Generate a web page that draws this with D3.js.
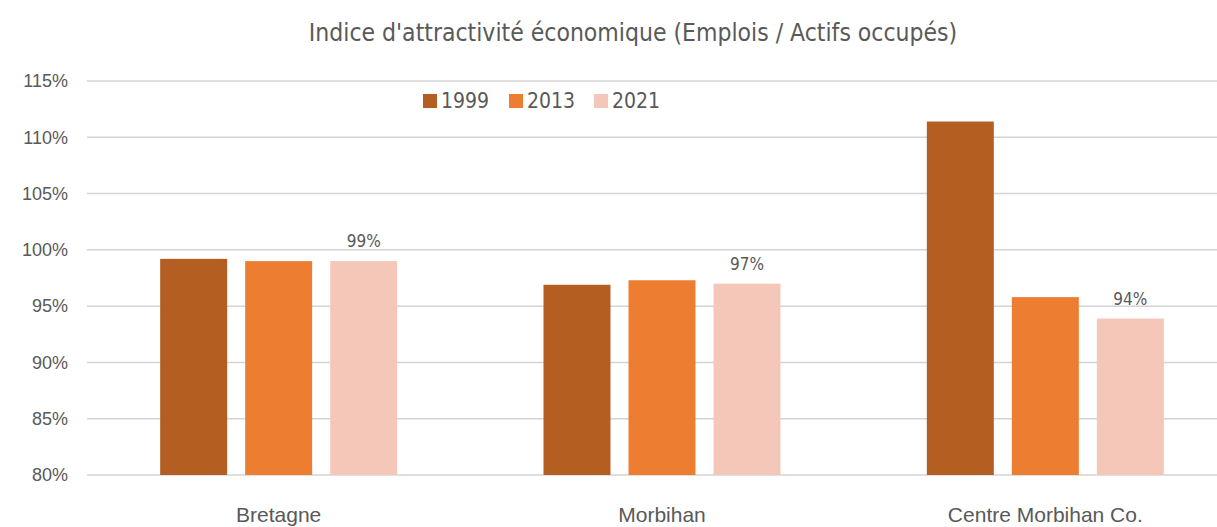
<!DOCTYPE html>
<html>
<head>
<meta charset="utf-8">
<script src="https://cdn.jsdelivr.net/npm/d3@7"></script>
<style>
  body { margin: 0; background: #fff; }
  svg { display: block; font-family: "Liberation Sans Narrow", "DejaVu Sans Condensed", "Noto Sans", sans-serif; }
</style>
</head>
<body>
<div id="chart"></div>
<script>
// chart data
const categories = ["Bretagne", "Morbihan", "Centre Morbihan Co."];
const years = ["1999", "2013", "2021"];
const v1999 = [0.992, 0.969, 1.114];
const v2013 = [0.990, 0.973, 0.958];
const v2021 = [0.990, 0.970, 0.939];
const labels2021 = ["99%", "97%", "94%"];
const yTicks = [0.80, 0.85, 0.90, 0.95, 1.00, 1.05, 1.10, 1.15];

const WIDTH = 1217, HEIGHT = 527;
const COLORS = {"1999": "#b45e22", "2013": "#ed7d31", "2021": "#f4c7b8"};

const svg = d3.select("#chart").append("svg")
    .attr("width", WIDTH)
    .attr("height", HEIGHT);

// scales
const X = d3.scaleBand().domain(categories).range([87, 1237]);
const XS = d3.scaleBand().domain(years).range([0, 237]).paddingInner(0.212);
const Y = d3.scaleLinear().domain([0.80, 1.15]).range([475, 81]);

// gridlines
svg.append("g").selectAll("line")
    .data(yTicks)
    .enter().append("line")
      .attr("x1", 87).attr("x2", 1237)
      .attr("y1", d => Y(d)).attr("y2", d => Y(d))
      .attr("stroke", "#d4d4d4")
      .attr("stroke-width", 1.5);

// y axis labels
const yAxis = svg.append("g")
    .attr("transform", "translate(68,0)")
    .call(d3.axisLeft(Y).tickValues(yTicks).tickFormat(d => Math.round(d * 100) + "%").tickSize(0).tickPadding(0));
yAxis.select(".domain").remove();
yAxis.selectAll("text")
    .attr("font-size", "18px")
    .attr("fill", "#595959")
    .style("font-family", "inherit");

// bars
const series = [v1999, v2013, v2021];
years.forEach((yr, i) => {
  svg.append("g").selectAll("rect")
      .data(series[i])
      .enter().append("rect")
        .attr("x", (d, j) => X(categories[j]) + (X.bandwidth() - 237) / 2 + XS(yr))
        .attr("y", d => Y(d))
        .attr("width", XS.bandwidth())
        .attr("height", d => Y(0.80) - Y(d))
        .attr("fill", COLORS[yr]);
});

// labels on 2021 bars
svg.append("g").selectAll("text")
    .data(v2021)
    .enter().append("text")
      .attr("x", (d, j) => X(categories[j]) + (X.bandwidth() - 237) / 2 + XS("2021") + XS.bandwidth() / 2)
      .attr("y", d => Y(d) - 14)
      .attr("text-anchor", "middle")
      .attr("font-size", "17px")
      .attr("fill", "#595959")
      .text((d, j) => labels2021[j]);

// x axis labels
const xAxis = svg.append("g")
    .attr("transform", "translate(0,475)")
    .call(d3.axisBottom(X).tickSize(0).tickPadding(32));
xAxis.select(".domain").remove();
xAxis.selectAll("text")
    .attr("font-size", "21px")
    .attr("fill", "#595959")
    .style("font-family", "inherit");

// title
svg.append("text")
    .attr("x", 633).attr("y", 41)
    .attr("text-anchor", "middle")
    .attr("font-size", "24.5px")
    .attr("fill", "#595959")
    .text("Indice d'attractivité économique  (Emplois / Actifs occupés)");

// legend
const legendX = [423, 509, 594];
const legend = svg.append("g").selectAll("g")
    .data(years)
    .enter().append("g")
      .attr("transform", (d, i) => "translate(" + legendX[i] + ",101)");
legend.append("rect")
    .attr("x", 0).attr("y", -7)
    .attr("width", 14).attr("height", 14)
    .attr("fill", d => COLORS[d]);
legend.append("text")
    .attr("x", 18).attr("y", 7)
    .attr("font-size", "21px")
    .attr("fill", "#595959")
    .text(d => d);
</script>
</body>
</html>
